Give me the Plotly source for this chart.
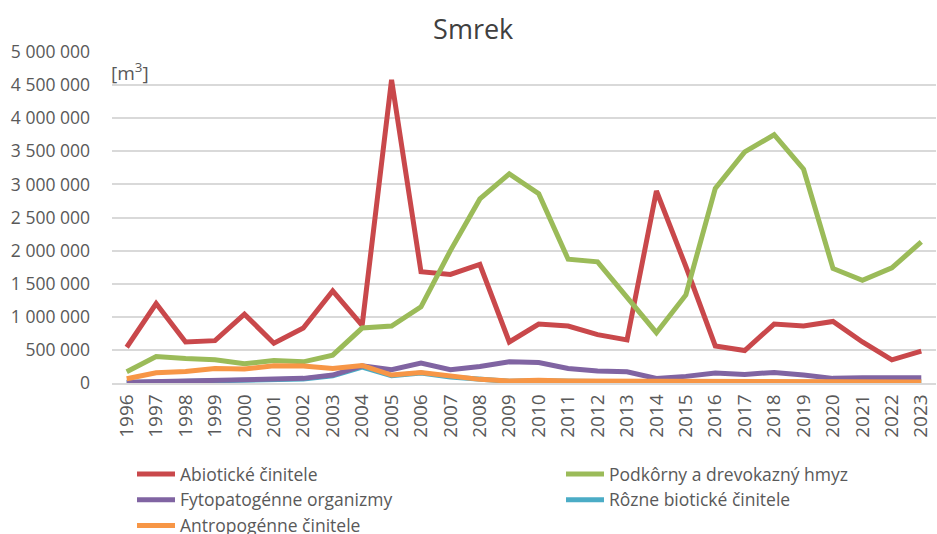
import plotly.graph_objects as go

years = [str(y) for y in range(1996, 2024)]

abioticke = [540000, 1200000, 620000, 640000, 1040000, 600000, 830000, 1390000, 870000, 4580000,
             1680000, 1640000, 1790000, 620000, 890000, 860000, 730000, 650000, 2900000, 1760000,
             560000, 490000, 890000, 860000, 930000, 620000, 350000, 480000]
podkorny = [170000, 400000, 370000, 350000, 290000, 340000, 320000, 420000, 830000, 860000,
            1150000, 2000000, 2780000, 3160000, 2860000, 1870000, 1830000, 1300000, 760000, 1330000,
            2940000, 3490000, 3750000, 3230000, 1730000, 1550000, 1740000, 2130000]
fytopatogenne = [10000, 20000, 20000, 40000, 50000, 50000, 70000, 120000, 260000, 200000,
                 300000, 200000, 250000, 320000, 310000, 220000, 180000, 170000, 70000, 100000,
                 150000, 130000, 160000, 120000, 70000, 80000, 80000, 80000]
rozne = [8000, 15000, 15000, 35000, 45000, 45000, 60000, 110000, 240000, 110000,
         150000, 90000, 50000, 25000, 35000, 25000, 25000, 15000, 12000, 12000,
         12000, 12000, 12000, 12000, 12000, 12000, 12000, 12000]
antropogenne = [65000, 155000, 175000, 220000, 210000, 260000, 255000, 220000, 265000, 120000,
                160000, 100000, 55000, 30000, 40000, 30000, 30000, 20000, 15000, 15000,
                15000, 15000, 15000, 15000, 15000, 15000, 15000, 15000]

# (name, values, colour, legend, legend rank); drawn in this order (cyan first, underneath)
series = [
    ("Rôzne biotické činitele", rozne, "#4BACC6", "legend2", 4),
    ("Abiotické činitele", abioticke, "#C9484B", "legend", 1),
    ("Podkôrny a drevokazný hmyz", podkorny, "#9BBB59", "legend2", 2),
    ("Fytopatogénne organizmy", fytopatogenne, "#8064A2", "legend", 3),
    ("Antropogénne činitele", antropogenne, "#F79646", "legend", 5),
]

y_ticks = list(range(0, 5000001, 500000))
y_ticktext = [f"{v:,}".replace(",", " ") for v in y_ticks]

fig = go.Figure()
for name, vals, col, lg, rank in series:
    fig.add_trace(go.Scatter(x=years, y=vals, mode="lines", name=name, legend=lg,
                             legendrank=rank, line=dict(color=col, width=5)))

legend_font = dict(family="Open Sans", size=17.5, color="#595959")
common_legend = dict(orientation="v", xref="paper", yref="container",
                     xanchor="left", yanchor="top", traceorder="normal",
                     bgcolor="rgba(0,0,0,0)", borderwidth=0,
                     font=legend_font, itemwidth=38, tracegroupgap=0)

fig.update_layout(
    width=937, height=534,
    margin=dict(l=112, r=1, t=52, b=151),
    paper_bgcolor="white", plot_bgcolor="white",
    title=dict(text="Smrek", x=0.505, xanchor="center", y=0.945, yanchor="middle",
               font=dict(family="Open Sans", size=27, color="#404040")),
    xaxis=dict(type="category", range=[-0.5, 27.5], showgrid=False, tickangle=-90,
               tickfont=dict(family="Open Sans", size=19, color="#595959"),
               showline=True, linecolor="#D9D9D9", linewidth=1.5, ticks="",
               ticklabelstandoff=2, fixedrange=True),
    yaxis=dict(range=[0, 5000000], tickvals=y_ticks, ticktext=y_ticktext,
               showgrid=True, gridcolor="#D9D9D9", gridwidth=1.5,
               tickfont=dict(family="Open Sans", size=17.5, color="#595959"),
               zeroline=False, ticks="", ticklabelstandoff=21, fixedrange=True),
    legend=dict(x=(132 - 112) / 824, y=0.146, **common_legend),
    legend2=dict(x=(561 - 112) / 824, y=0.146, **common_legend),
    showlegend=True,
    annotations=[dict(text="[m<sup>3</sup>]", xref="paper", yref="paper", x=-0.004, y=0.94,
                      xanchor="left", yanchor="middle", showarrow=False,
                      font=dict(family="Open Sans", size=19, color="#595959"))],
)

fig.write_html("out.html")
